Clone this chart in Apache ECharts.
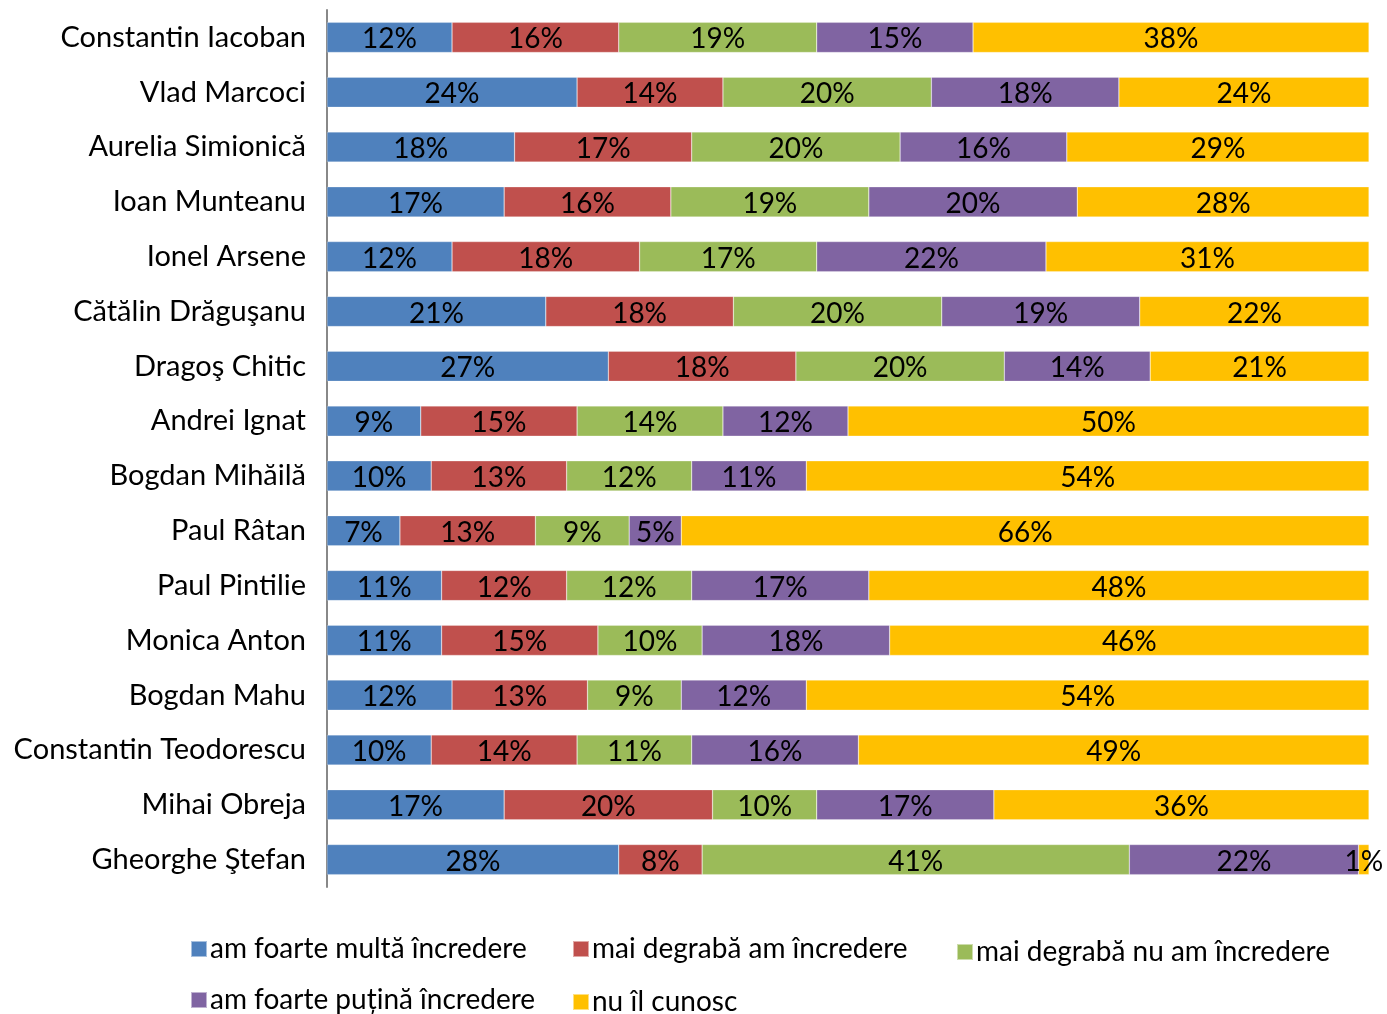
<!DOCTYPE html>
<html>
<head>
<meta charset="utf-8">
<script src="https://cdn.jsdelivr.net/npm/echarts@6/dist/echarts.min.js"></script>
<style>
  html, body { margin: 0; padding: 0; background: #fff; }
  #chart { width: 1387px; height: 1014px; }
</style>
</head>
<body>
<div id="chart"></div>
<script>
// categorii (de sus in jos)
const persons = [
  'Constantin Iacoban', 'Vlad Marcoci', 'Aurelia Simionică', 'Ioan Munteanu',
  'Ionel Arsene', 'Cătălin Drăguşanu', 'Dragoş Chitic', 'Andrei Ignat',
  'Bogdan Mihăilă', 'Paul Râtan', 'Paul Pintilie', 'Monica Anton',
  'Bogdan Mahu', 'Constantin Teodorescu', 'Mihai Obreja', 'Gheorghe Ştefan'
]
const seriesNames = [
  'am foarte multă încredere', 'mai degrabă am încredere', 'mai degrabă nu am încredere',
  'am foarte puțină încredere', 'nu îl cunosc'
]
const multa   = [12, 24, 18, 17, 12, 21, 27, 9, 10, 7, 11, 11, 12, 10, 17, 28]
const degAm   = [16, 14, 17, 16, 18, 18, 18, 15, 13, 13, 12, 15, 13, 14, 20, 8]
const degNu   = [19, 20, 20, 19, 17, 20, 20, 14, 12, 9, 12, 10, 9, 11, 10, 41]
const putina  = [15, 18, 16, 20, 22, 19, 14, 12, 11, 5, 17, 18, 12, 16, 17, 22]
const nuCunosc = [38, 24, 29, 28, 31, 22, 21, 50, 54, 66, 48, 46, 54, 49, 36, 1]
const colors = ['#4F81BD', '#C0504D', '#9BBB59', '#8064A2', '#FFC000']

const FONT = 'Lato'
const chart = echarts.init(document.getElementById('chart'))

const values = [multa, degAm, degNu, putina, nuCunosc]
const series = values.map((v, i) => ({
  name: seriesNames[i],
  type: 'bar',
  stack: 'total',
  barWidth: '55%',
  data: v,
  itemStyle: { color: colors[i], borderColor: 'rgba(255,255,255,0.5)', borderWidth: 0.5 },
  label: {
    show: true,
    position: 'inside',
    offset: [0, 2],
    formatter: '{c}%',
    color: '#000',
    fontFamily: FONT,
    fontSize: 28,
    overflow: 'none'
  },
  emphasis: { disabled: true }
}))

// legenda pe doua randuri, pozitii fixe
const legendPos = [[190, 935], [572, 935], [956, 938], [190, 986], [572, 988]]
const legends = seriesNames.map((n, i) => ({
  data: [n],
  left: legendPos[i][0],
  top: legendPos[i][1],
  padding: 0,
  icon: 'rect',
  itemWidth: 16,
  itemHeight: 16,
  itemGap: 4,
  textStyle: { fontFamily: FONT, fontSize: 28, color: '#000', padding: [0, 0, 0, -2] },
  selectedMode: false
}))

chart.setOption({
  animation: false,
  color: colors,
  legend: legends,
  grid: { left: 327, right: 18, top: 10, bottom: 127, containLabel: false },
  xAxis: {
    type: 'value',
    min: 0,
    max: 100,
    show: false
  },
  yAxis: {
    type: 'category',
    data: persons,
    inverse: true,
    axisLine: { show: true, lineStyle: { color: '#888', width: 2 } },
    axisTick: { show: false },
    axisLabel: { fontFamily: FONT, fontSize: 29, color: '#000', margin: 21 }
  },
  series: series
})
</script>
</body>
</html>
